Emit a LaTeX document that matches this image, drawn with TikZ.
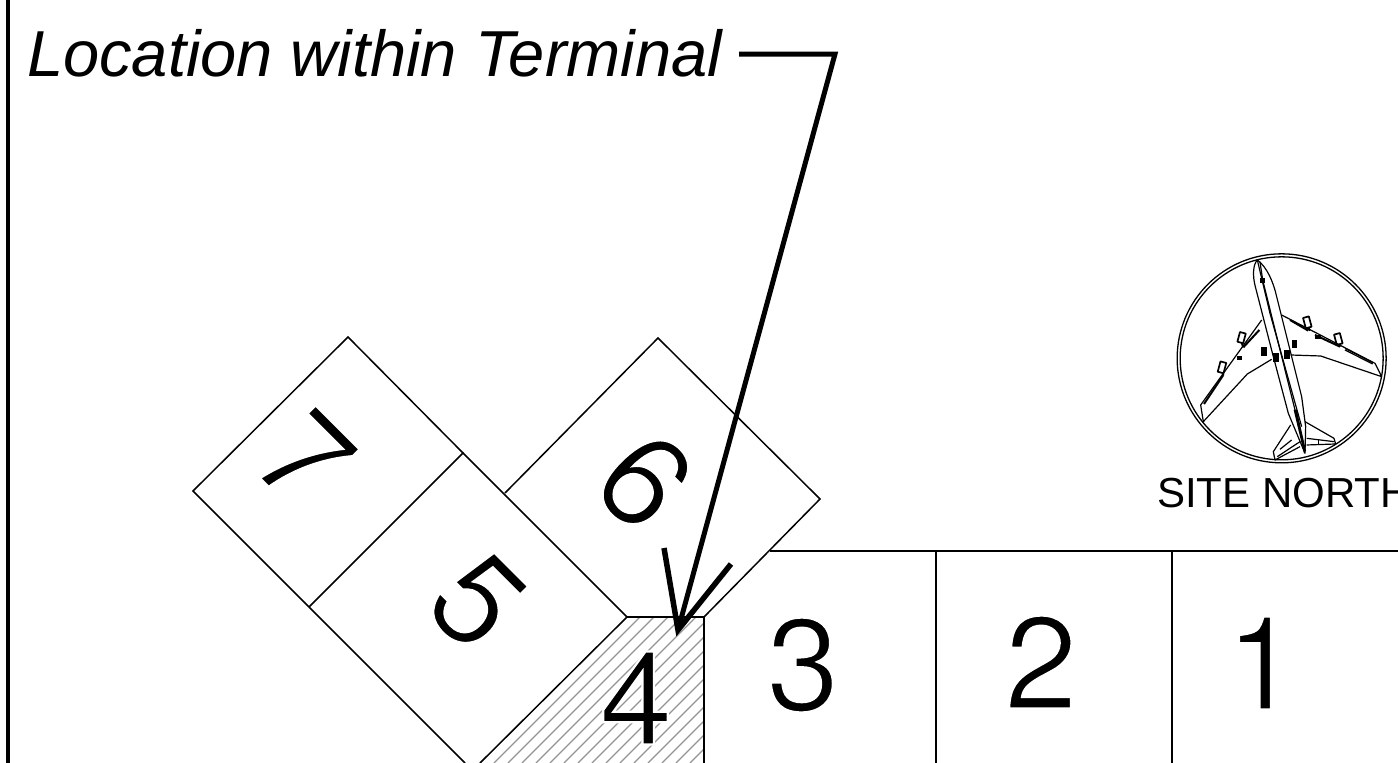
\documentclass[tikz,border=0pt]{standalone}
\usepackage{fontspec}
\setmainfont{Liberation Sans}
\newfontfamily\digitfont{TeX Gyre Heros}
\newcommand\slimglyph[1]{\special{pdf:code q 2 Tr 1 1 1 RG 2.2 w}#1\special{pdf:code Q}}
\tikzset{
  room/.style={draw=black,line width=1.5pt,line join=miter},
  digit/.style={inner sep=0pt,font=\digitfont\fontsize{131}{131}\selectfont},
  rotdigit/.style={digit,rotate=-45},
  plane/.style={draw=black,line width=1.2pt,line join=round},
}
\begin{document}
\begin{tikzpicture}[x=1pt,y=-1pt]
\useasboundingbox (0,0) rectangle (1398,763);
% frame
\draw[line width=4pt] (8,0) -- (8,763);
% hatch
\begin{scope}
\clip (627,617) -- (704,617) -- (704,763) -- (480,763) -- cycle;
\foreach \i in {0,14,...,420}{
  \draw[line width=1.2pt,color=black!42] (\i+480,763) -- (\i+680,563);
}
\end{scope}
% digits
\node[rotdigit] (n7) at (305,459) {\slimglyph{7}};
\node[rotdigit] (n5) at (477,601) {\slimglyph{5}};
\node[rotdigit] (n6) at (645,481) {\slimglyph{6}};
\node[digit] (n4) at (636,698) {\slimglyph{4}};
\node[digit] (n3) at (803,665) {\slimglyph{3}};
\node[digit] (n2) at (1041,662) {\slimglyph{2}};
\node[digit] (n1) at (1262,663) {\slimglyph{1}};
% rooms
\draw[room] (463,453) -- (348,337) -- (193,491) -- (309,607);
\draw[room] (309,607) -- (463,453) -- (627,617);
\draw[room] (309,607) -- (465,763);
\draw[room] (505,493) -- (658,338) -- (820,499) -- (704,617);
\draw[room] (627,617) -- (704,617) -- (704,763);
\draw[room] (627,617) -- (480,763);
\draw[room] (770,551) -- (1398,551);
\draw[room] (936,551) -- (936,763);
\draw[room] (1172,551) -- (1172,763);
% label + leader
\node[inner sep=0pt,anchor=west,font=\fontsize{65}{65}\selectfont\itshape] (loc) at (27,53) {Location within Terminal};
\coordinate (elbow) at (835,54);
\coordinate (tip) at (678,630);
\coordinate (start) at (739,54);
\coordinate (barbL) at (664,548);
\coordinate (barbR) at (731,564);
\draw[line width=5pt,line join=miter] (start) -- (elbow) -- (tip);
\draw[line width=5.5pt,line join=miter] (barbL) -- (tip) -- (barbR);
% north symbol
\begin{scope}[shift={(1160,240)},x=0.3333pt,y=-0.3333pt]
\node[draw=black,circle,minimum size=209pt,inner sep=0pt,line width=1.3pt] (outer) at (365,355) {};
\node[draw=black,circle,minimum size=203pt,inner sep=0pt,line width=1.3pt] (inner) at (365,355) {};
% fuselage
\draw[plane] (292,60) .. controls (278,75) and (278,110) .. (286,140) -- (340,350) -- (385,520) -- (435,640) -- (437,560) -- (425,470) -- (390,330) -- (350,170) .. controls (340,125) and (320,80) .. (292,60) -- cycle;
\draw[plane] (300,65) -- (308,120) -- (405,510);
\draw[plane] (292,60) -- (330,220) -- (425,560);
\fill (401,510) -- (410,508) -- (438,632) -- (432,640) -- cycle;
% left wing
\draw[plane] (305,240) -- (122,495) -- (130,545) -- (262,402) -- (335,358);
\draw[line width=2pt] (298,270) -- (250,322) (190,405) -- (132,492);
% right wing
\draw[plane] (365,225) -- (645,370) -- (665,410) -- (482,348) -- (392,345);
\draw[line width=2pt] (390,240) -- (445,272) (465,285) -- (540,320);
\draw[plane] (555,325) -- (638,368);
\draw[plane] (555,330) -- (638,372);
% engines
\draw[plane,line width=1.7pt,rotate around={-15:(245,292)}] (236,278) rectangle (254,308);
\draw[plane,line width=1.7pt,rotate around={-15:(186,382)}] (177,366) rectangle (195,398);
\draw[plane,line width=1.7pt,rotate around={15:(442,247)}] (433,231) rectangle (451,263);
\draw[plane,line width=1.7pt,rotate around={15:(535,297)}] (526,281) rectangle (544,313);
\draw[line width=2pt] (245,308) -- (250,322) (188,398) -- (190,405) (445,263) -- (450,272) (538,312) -- (540,320);
% gear
\fill (301,115) rectangle (316,129);
\fill (304,322) rectangle (320,349);
\fill (338,338) rectangle (357,366);
\fill (371,330) rectangle (390,358);
\fill (395,300) rectangle (412,325);
\fill (465,285) rectangle (482,298);
\fill (232,347) rectangle (245,360);
% tail
\draw[plane] (392,555) -- (340,635) -- (345,660) -- (420,620);
\draw[plane] (352,650) -- (420,605);
\draw[plane] (360,628) -- (395,600);
\draw[plane] (435,545) -- (522,595) -- (527,612) -- (440,615);
\draw[plane] (440,595) -- (522,605);
\draw[plane] (475,598) -- (475,615);
\end{scope}
\node[inner sep=0pt,anchor=west,font=\fontsize{42}{42}\selectfont] (north) at (1157,493) {SITE NORTH};
\end{tikzpicture}
\end{document}
